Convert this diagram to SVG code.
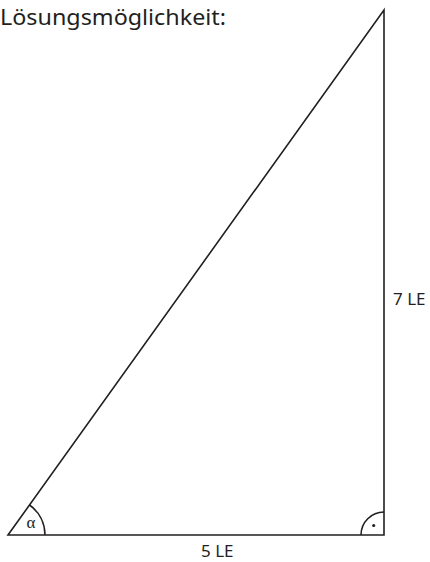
<svg xmlns="http://www.w3.org/2000/svg" width="430" height="562" viewBox="0 0 430 562">
<style>
.ln{fill:none;stroke:#231f20;stroke-width:1.6;stroke-linejoin:miter}
.t{font-family:"Noto Sans","Open Sans",sans-serif;fill:#231f20}
</style>
<rect width="430" height="562" fill="#fff"/>
<text class="t" x="0" y="25" font-size="21" textLength="226" lengthAdjust="spacingAndGlyphs">Lösungsmöglichkeit:</text>
<g id="triangle">
<path class="ln" d="M8,535 L384,535 L384,10 Z"/>
</g>
<g id="angle-alpha">
<path class="ln" d="M45,535 A37,37 0 0 0 29.5,505"/>
<text x="31" y="528" font-family="'Liberation Serif',serif" font-size="17" fill="#231f20" text-anchor="middle">α</text>
</g>
<g id="right-angle">
<path class="ln" d="M361,535 A23,23 0 0 1 384,512"/>
<circle cx="373.7" cy="525.5" r="1.6" fill="#231f20"/>
</g>
<text class="t" x="201" y="557" font-size="17">5 LE</text>
<text class="t" x="393" y="305" font-size="17">7 LE</text>
</svg>
